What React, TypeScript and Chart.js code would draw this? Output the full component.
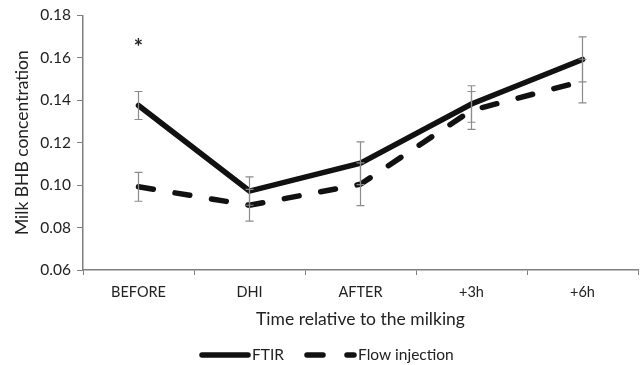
import React, { useEffect, useRef } from "react";
import { Chart, registerables } from "chart.js";

Chart.register(...registerables);

const categories = ["BEFORE", "DHI", "AFTER", "+3h", "+6h"];
const ftirValues = [0.1375, 0.0972, 0.1103, 0.1382, 0.1592];
const ftirErrors = [0.0066, 0.0067, 0.0101, 0.0086, 0.0106];
const flowValues = [0.0992, 0.0905, 0.1004, 0.1352, 0.1490];
const flowErrors = [0.0068, 0.0075, 0.0101, 0.0089, 0.0103];
const asteriskCategory = "BEFORE";
const asteriskValue = 0.1665;
const yTicks = [0.06, 0.08, 0.1, 0.12, 0.14, 0.16, 0.18];

const FONT = "Lato, 'Open Sans', sans-serif";
const TEXT = "#222222";
const AXIS = "#7f7f7f";

const errorBarPlugin = {
  id: "errorBars",
  afterDatasetsDraw(chart: any) {
    const { ctx, scales } = chart;
    const x = scales.x;
    const y = scales.y;
    ctx.save();
    ctx.strokeStyle = "#8c8c8c";
    ctx.lineWidth = 1.2;
    const sets = [
      { v: ftirValues, e: ftirErrors },
      { v: flowValues, e: flowErrors },
    ];
    sets.forEach((s) => {
      s.v.forEach((val, i) => {
        const px = x.getPixelForValue(i);
        const top = y.getPixelForValue(val + s.e[i]);
        const bot = y.getPixelForValue(val - s.e[i]);
        ctx.beginPath();
        ctx.moveTo(px, top);
        ctx.lineTo(px, bot);
        ctx.moveTo(px - 4, top);
        ctx.lineTo(px + 4, top);
        ctx.moveTo(px - 4, bot);
        ctx.lineTo(px + 4, bot);
        ctx.stroke();
      });
    });
    // asterisk
    const ai = categories.indexOf(asteriskCategory);
    ctx.fillStyle = TEXT;
    ctx.font = `bold 22px ${FONT}`;
    ctx.textAlign = "center";
    ctx.textBaseline = "middle";
    ctx.fillText("*", x.getPixelForValue(ai), y.getPixelForValue(asteriskValue) + 4);
    ctx.restore();
  },
  afterDraw(chart: any) {
    const { ctx } = chart;
    const cy = 355;
    ctx.save();
    ctx.strokeStyle = "#111111";
    ctx.lineWidth = 5.5;
    ctx.lineCap = "round";
    // FTIR sample
    ctx.beginPath();
    ctx.moveTo(202, cy);
    ctx.lineTo(248, cy);
    ctx.stroke();
    // Flow sample
    ctx.beginPath();
    ctx.moveTo(307, cy);
    ctx.lineTo(323, cy);
    ctx.moveTo(347, cy);
    ctx.lineTo(354, cy);
    ctx.stroke();
    ctx.fillStyle = TEXT;
    ctx.font = `15.5px ${FONT}`;
    ctx.textAlign = "left";
    ctx.textBaseline = "middle";
    ctx.fillText("FTIR", 252, cy);
    ctx.fillText("Flow injection", 358, cy);
    ctx.restore();
  },
};

export default function App() {
  const ref = useRef<HTMLCanvasElement>(null);
  useEffect(() => {
    document.body.style.margin = "0";
    const chart = new Chart(ref.current!, {
      type: "line",
      data: {
        labels: categories,
        datasets: [
          {
            label: "FTIR",
            data: ftirValues,
            borderColor: "#111111",
            borderWidth: 5.5,
            pointRadius: 0,
            borderCapStyle: "round",
            tension: 0,
          },
          {
            label: "Flow injection",
            data: flowValues,
            borderColor: "#111111",
            borderWidth: 5.5,
            borderDash: [15, 22],
            borderCapStyle: "round",
            pointRadius: 0,
            tension: 0,
          },
        ],
      },
      options: {
        responsive: false,
        animation: false,
        layout: { padding: { left: 10, right: 3, top: 15, bottom: 35 } },
        plugins: { legend: { display: false }, tooltip: { enabled: false } },
        scales: {
          x: {
            offset: true,
            grid: {
              offset: true,
              drawOnChartArea: false,
              tickLength: 5,
              color: AXIS,
            },
            border: { color: AXIS, width: 1.5 },
            ticks: { color: TEXT, font: { family: FONT, size: 14.5 }, padding: 9 },
            title: {
              display: true,
              text: "Time relative to the milking",
              color: TEXT,
              font: { family: FONT, size: 17.5 },
              padding: { top: 0, bottom: 0 },
            },
            afterFit: (s: any) => {
              s.height = 60;
            },
          },
          y: {
            min: 0.06,
            max: 0.18,
            afterBuildTicks: (s: any) => {
              s.ticks = yTicks.map((v) => ({ value: v }));
            },
            grid: { drawOnChartArea: false, tickLength: 6, color: AXIS },
            border: { color: AXIS, width: 1.5 },
            ticks: {
              color: TEXT,
              font: { family: FONT, size: 15.5 },
              padding: 6,
              callback: (v: any) => Number(v).toFixed(2),
            },
            title: {
              display: true,
              text: "Milk BHB concentration",
              color: TEXT,
              font: { family: FONT, size: 17.5 },
              padding: { top: 2, bottom: 0 },
            },
            afterFit: (s: any) => {
              s.width = 73;
            },
          },
        },
      },
      plugins: [errorBarPlugin],
    });
    return () => chart.destroy();
  }, []);
  return (
    <div style={{ width: 641, height: 365 }}>
      <canvas ref={ref} width={641} height={365} style={{ display: "block" }} />
    </div>
  );
}
